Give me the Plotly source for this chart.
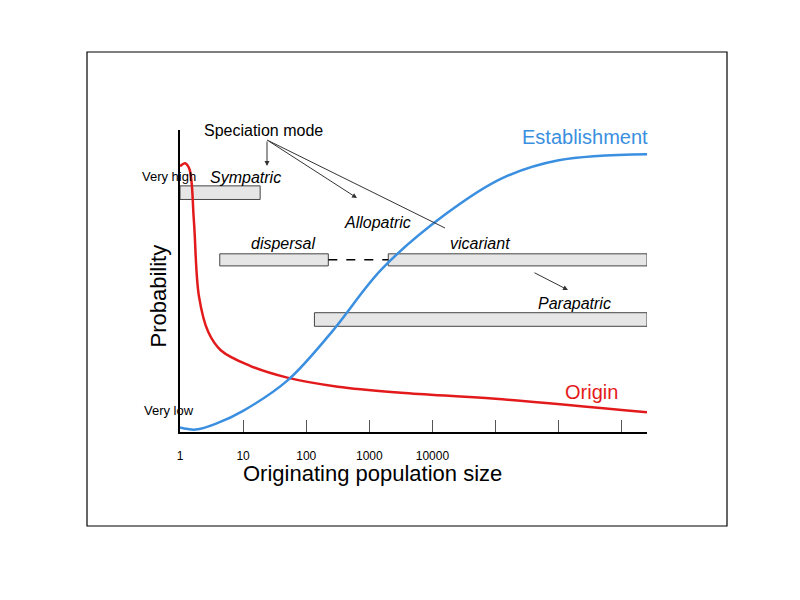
import plotly.graph_objects as go

# x in log10(population size) units, y probability 0..1
origin_x = [0, 0.08, 0.15, 0.22, 0.3, 0.45, 0.65, 1.1, 1.7, 2.5, 3.5, 5.0, 7.4]
origin_y = [0.88, 0.89, 0.87, 0.70, 0.45, 0.33, 0.27, 0.22, 0.18, 0.15, 0.13, 0.11, 0.065]
estab_x = [0, 0.25, 0.6, 1.0, 1.7, 2.4, 3.2, 4.2, 5.1, 6.0, 7.4]
estab_y = [0.015, 0.008, 0.03, 0.07, 0.17, 0.33, 0.54, 0.72, 0.84, 0.90, 0.92]

tick_vals = [0, 1, 2, 3, 4, 5, 6, 7]
tick_text = ['1', '10', '100', '1000', '10000', '', '', '']

# bars: (x0, x1, y0, y1)
bars = [(0, 1.27, 0.77, 0.815), (0.63, 2.35, 0.55, 0.59),
        (3.3, 7.4, 0.55, 0.59), (2.13, 7.4, 0.35, 0.395)]

X0, X1, Y0, Y1 = 180, 647, 432, 130
XR = 7.4
OFF = 8  # page body margin

def px(x):
    return (x - X0) / (X1 - X0) * XR

def py(y):
    return (Y0 - y) / (Y0 - Y1)

def ppx(x):
    return (x - X0) / (X1 - X0)

fig = go.Figure()
fig.add_trace(go.Scatter(x=origin_x, y=origin_y, mode='lines', line=dict(color='#e31a1c', width=2.5, shape='spline')))
fig.add_trace(go.Scatter(x=estab_x, y=estab_y, mode='lines', line=dict(color='#3a8fe0', width=2.5, shape='spline')))

shapes = []
for x0, x1, y0, y1 in bars:
    shapes.append(dict(type='rect', x0=x0, x1=x1, y0=y0, y1=y1, fillcolor='#e6e6e6', line=dict(color='#444', width=1), layer='below'))
shapes.append(dict(type='line', x0=2.35, x1=3.3, y0=0.57, y1=0.57, line=dict(color='black', width=1.5, dash='dash')))
shapes.append(dict(type='line', x0=px(267), x1=px(445), y0=py(140), y1=py(228), line=dict(color='#333', width=1)))
shapes.append(dict(type='rect', xref='paper', yref='paper',
                   x0=ppx(87), x1=ppx(727), y0=py(526), y1=py(52), line=dict(color='black', width=1.2)))

ann = []
def txt(x, y, s, size=16, color='black', italic=False, paper=False, angle=0):
    if italic:
        s = '<i>' + s + '</i>'
    if paper:
        ann.append(dict(x=ppx(x), y=py(y), xref='paper', yref='paper', text=s, showarrow=False,
                        textangle=angle, font=dict(size=size, color=color)))
    else:
        ann.append(dict(x=px(x), y=py(y), text=s, showarrow=False, font=dict(size=size, color=color)))

txt(263, 130, 'Speciation mode')
txt(245, 177, 'Sympatric', italic=True)
txt(283, 243, 'dispersal', italic=True)
txt(377, 222, 'Allopatric', italic=True)
txt(480, 243, 'vicariant', italic=True)
txt(574, 303, 'Parapatric', italic=True)
txt(585, 137, 'Establishment', size=20, color='#3a8fe0')
txt(591, 392, 'Origin', size=20, color='#e31a1c')
txt(140, 167, 'Very high', size=13, paper=True)
txt(142, 420, 'Very low', size=13, paper=True)
txt(143, 296, 'Probability', size=22, paper=True, angle=-90)
txt(372, 488, 'Originating population size', size=22, paper=True)

def arrow(xa, ya, xb, yb):
    ann.append(dict(x=px(xb), y=py(yb), ax=px(xa), ay=py(ya), axref='x', ayref='y', text='',
                    showarrow=True, arrowhead=2, arrowsize=1, arrowwidth=1, arrowcolor='#333'))

arrow(267, 140, 267, 166)
arrow(267, 140, 357, 198)
arrow(533, 272, 568, 290)

fig.update_layout(
    width=800, height=600, showlegend=False,
    paper_bgcolor='white', plot_bgcolor='white',
    margin=dict(l=X0 - OFF, r=800 - X1 + OFF, t=Y1 - OFF, b=600 - Y0 + OFF),
    shapes=shapes, annotations=ann,
    font=dict(family='Arial, Liberation Sans', color='black'),
)
fig.update_xaxes(range=[0, XR], tickvals=tick_vals, ticktext=tick_text, ticks='inside', ticklen=12,
                 tickcolor='#555', showline=True, linecolor='black', linewidth=2, showgrid=False,
                 zeroline=False, tickfont=dict(size=12), ticklabelstandoff=12)
fig.update_yaxes(range=[0, 1], showticklabels=False, showline=True, linecolor='black', linewidth=2,
                 showgrid=False, zeroline=False)
fig.write_html('out.html')
